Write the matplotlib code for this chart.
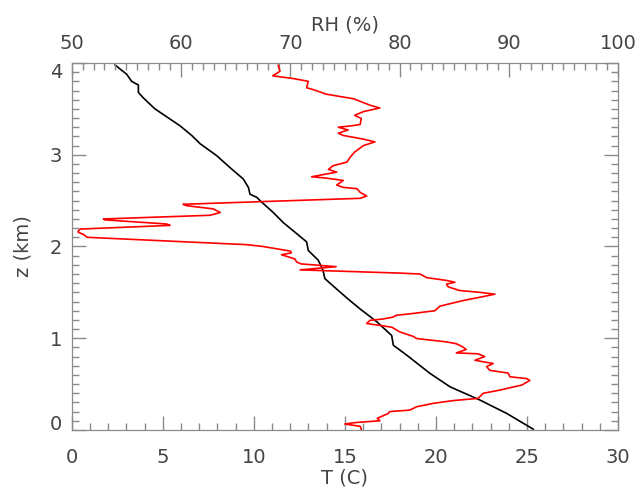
import matplotlib
matplotlib.use('Agg')
import matplotlib.pyplot as plt
from matplotlib.ticker import MultipleLocator, FixedLocator

# temperature profile (black)
temp_c = [25.35, 23.89, 22.42, 20.78, 19.68, 18.4, 17.66, 17.57, 16.75, 15.83,
          15.28, 14.64, 13.9, 13.8, 13.54, 12.99, 12.9, 12.17, 11.62, 11.07,
          10.34, 10.16, 9.79, 9.70, 9.42, 8.69, 7.96, 7.05, 6.59, 5.95,
          4.57, 3.93, 3.66, 3.66, 3.29, 3.02, 2.38]
temp_z = [0.008, 0.18, 0.326, 0.47, 0.616, 0.815, 0.924, 1.03, 1.18, 1.32,
          1.41, 1.52, 1.65, 1.74, 1.85, 1.957, 2.05, 2.17, 2.26, 2.37,
          2.50, 2.536, 2.57, 2.645, 2.736, 2.86, 2.99, 3.12, 3.21, 3.315,
          3.50, 3.62, 3.68, 3.76, 3.80, 3.877, 3.978]

# relative humidity profile (red)
rh_pct = [76.5, 76.4, 75.0, 75.9, 77.0, 78.2, 77.96, 78.97, 79.1, 80.95,
          81.56, 83.08, 84.9, 87.2, 87.66, 89.2, 91.2, 91.93, 91.63, 90.1,
          89.95, 88.27, 87.97, 88.57, 87.8, 86.9, 87.8, 87.2, 85.2, 86.1,
          85.8, 85.2, 84.3, 81.56, 81.25, 80.0, 79.3, 78.2, 77.0, 77.3,
          78.5, 79.4, 79.7, 81.25, 83.24, 83.7, 85.8, 87.5, 88.73, 87.36,
          85.5, 84.46, 84.3, 85.07, 84.3, 82.5, 81.87, 80.0, 70.9, 74.2,
          71.0, 70.6, 70.4, 69.2, 70.1, 70.0, 67.5, 66.0, 51.4, 51.1,
          50.6, 50.6, 50.8, 59.0, 58.7, 53.05, 52.9, 62.65, 63.6, 62.95,
          60.5, 60.2, 76.4, 77.0, 76.4, 76.1, 74.8, 74.25, 74.85, 73.3,
          71.96, 73.3, 74.25, 73.5, 73.9, 75.2, 75.46, 75.9, 76.7, 77.75,
          76.7, 74.85, 74.4, 75.3, 74.4, 75.6, 76.4, 76.5, 75.9, 76.7,
          78.2, 77.3, 75.8, 73.3, 72.1, 71.5, 71.65, 70.3, 68.4, 69.06,
          68.9]
rh_z = [0.008, 0.04, 0.065, 0.08, 0.09, 0.10, 0.127, 0.18, 0.20, 0.217,
        0.253, 0.29, 0.32, 0.345, 0.40, 0.435, 0.49, 0.54, 0.56, 0.58,
        0.62, 0.65, 0.69, 0.725, 0.74, 0.76, 0.80, 0.83, 0.84, 0.877,
        0.905, 0.94, 0.96, 0.997, 1.02, 1.07, 1.12, 1.14, 1.16, 1.195,
        1.21, 1.23, 1.25, 1.27, 1.30, 1.35, 1.41, 1.45, 1.48, 1.50,
        1.52, 1.56, 1.59, 1.61, 1.63, 1.66, 1.70, 1.71, 1.745, 1.78,
        1.81, 1.83, 1.865, 1.91, 1.93, 1.95, 2.0, 2.02, 2.10, 2.13,
        2.155, 2.17, 2.19, 2.23, 2.245, 2.29, 2.30, 2.34, 2.37, 2.41,
        2.445, 2.46, 2.525, 2.55, 2.59, 2.63, 2.645, 2.67, 2.72, 2.745,
        2.76, 2.79, 2.81, 2.84, 2.88, 2.92, 2.97, 3.03, 3.10, 3.14,
        3.17, 3.21, 3.235, 3.27, 3.30, 3.315, 3.33, 3.395, 3.43, 3.47,
        3.51, 3.54, 3.61, 3.66, 3.71, 3.73, 3.80, 3.83, 3.86, 3.91,
        3.975]

z_ticks = [0, 1, 2, 3, 4]

plt.rcParams['font.family'] = ['DejaVu Sans']
txt_color = '#444444'
ax_color = '#8a8a8a'

fig = plt.figure(figsize=(6.38, 4.94), dpi=100)
ax = fig.add_axes([0.1124, 0.1296, 0.8563, 0.7429])
ax.plot(temp_c, temp_z, color='black', lw=1.2)
ax.set_xlabel('T (C)', fontsize=14, color=txt_color, labelpad=1)
ax.set_ylabel('z (km)', fontsize=14, color=txt_color, labelpad=12)
ax.xaxis.set_major_locator(MultipleLocator(5))
ax.xaxis.set_minor_locator(MultipleLocator(1))
ax.yaxis.set_major_locator(FixedLocator(z_ticks))
ax.yaxis.set_minor_locator(MultipleLocator(0.1))
ax.tick_params(which='both', direction='in', right=True, color=ax_color,
               labelsize=14, labelcolor=txt_color, width=1)
ax.tick_params(which='major', length=10)
ax.tick_params(which='minor', length=5)
ax.tick_params(axis='x', pad=13)
ax.tick_params(axis='y', pad=7)
for sp in ax.spines.values():
    sp.set_color(ax_color)

ax2 = ax.twiny()
ax2.plot(rh_pct, rh_z, color='red', lw=1.2)
ax2.set_xlabel('RH (%)', fontsize=14, color=txt_color, labelpad=3)
ax2.xaxis.set_major_locator(MultipleLocator(10))
ax2.xaxis.set_minor_locator(MultipleLocator(1))
ax2.tick_params(which='both', direction='in', color=ax_color,
                labelsize=14, labelcolor=txt_color, width=1, pad=7)
ax2.tick_params(which='major', length=10)
ax2.tick_params(which='minor', length=5)
for sp in ax2.spines.values():
    sp.set_color(ax_color)

# limits last, so the twin plot does not autoscale the shared z axis
ax.set_xlim(0, 30)
ax2.set_xlim(50, 100)
ax.set_ylim(0, 4.0)
ax2.set_ylim(0, 4.0)

# end labels on the z axis sit inside the axis range, as in the source
fig.canvas.draw()
yticks = ax.yaxis.get_major_ticks()
yticks[0].label1.set_va('baseline')
yticks[-1].label1.set_va('top')

fig.savefig('out.png', dpi=100)
